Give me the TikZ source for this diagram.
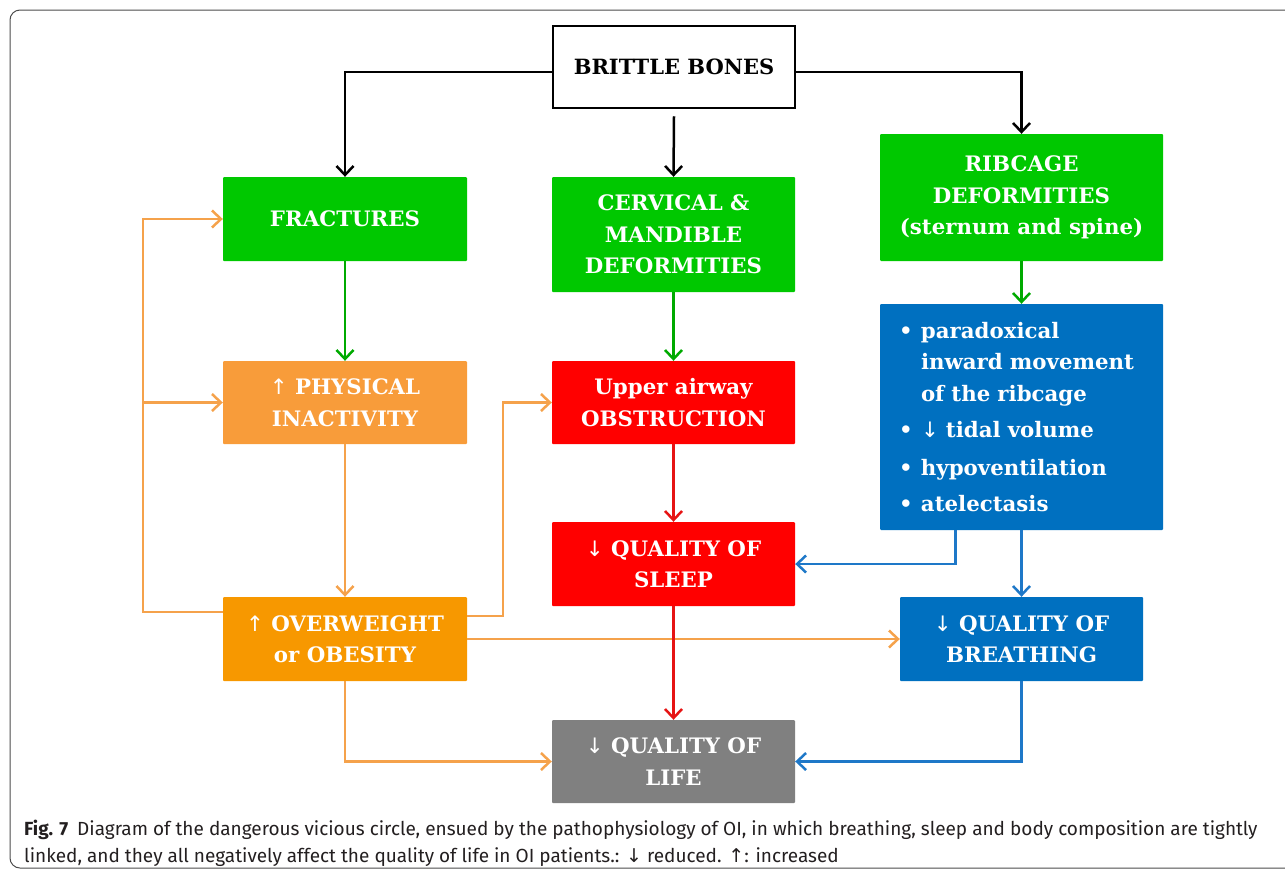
\documentclass[tikz,border=0pt]{standalone}
\usepackage{fontspec}
\setmainfont{DejaVu Serif}
\newfontfamily\capfont{Fira Sans}
\newfontfamily\arrfont{DejaVu Sans}
\usetikzlibrary{arrows.meta}
\definecolor{cgreen}{RGB}{0,200,0}
\definecolor{corangeA}{RGB}{248,156,58}
\definecolor{corangeB}{RGB}{247,152,0}
\definecolor{corangeL}{RGB}{245,162,75}
\definecolor{cred}{RGB}{255,0,0}
\definecolor{credL}{RGB}{230,20,20}
\definecolor{cblue}{RGB}{0,112,192}
\definecolor{cblueL}{RGB}{30,120,200}
\definecolor{cgray}{RGB}{128,128,128}
\definecolor{ccap}{RGB}{35,31,32}
\newcommand{\upa}{{\arrfont\mdseries\char"2191}}
\newcommand{\dna}{{\arrfont\mdseries\char"2193}}
\begin{document}
\begin{tikzpicture}[x=1pt,y=-1pt,
  box/.style={rectangle, inner sep=0pt, text=white, align=center, rounded corners=1pt,
    font=\bfseries\fontsize{21.3}{31.5}\selectfont},
  conn/.style={line width=2.5pt, -{Straight Barb[length=9pt,width=17pt,line width=2.5pt]}},
  blk/.style={conn, draw=black},
  grn/.style={conn, draw=cgreen!85!black},
  org/.style={conn, draw=corangeL},
  rd/.style={conn, draw=credL},
  blu/.style={conn, draw=cblueL},
]
\useasboundingbox (0,0) rectangle (1285,871);
\draw[draw=black!70, line width=1pt, rounded corners=10pt] (10,10) rectangle (1300,868);

% nodes
\node[rectangle, draw=black, line width=2.5pt, fill=white, minimum width=242pt, minimum height=82pt,
  font=\bfseries\fontsize{21}{24}\selectfont] (brittle) at (674,67) {BRITTLE BONES};
\node[box, fill=cgreen, minimum width=244pt, minimum height=84pt] (frac) at (345,219) {FRACTURES};
\node[box, fill=cgreen, minimum width=243pt, minimum height=115pt] (cerv) at (673.5,234.5) {CERVICAL \&\\MANDIBLE\\DEFORMITIES};
\node[box, fill=cgreen, minimum width=283pt, minimum height=127pt] (rib) at (1021.5,197.5) {RIBCAGE\\DEFORMITIES\\(sternum and spine)};
\node[box, fill=corangeA, minimum width=244pt, minimum height=83pt] (phys) at (345,402.5) {\upa{} PHYSICAL\\INACTIVITY};
\node[box, fill=cred, minimum width=243pt, minimum height=83pt] (upper) at (673.5,402.5) {Upper airway\\OBSTRUCTION};
\node[box, fill=cblue, minimum width=283pt, minimum height=226pt, text width=245pt, align=left] (resp) at (1021.5,417)
 {\makebox[22pt][l]{•}paradoxical\\
  \hspace*{22pt}inward movement\\
  \hspace*{22pt}of the ribcage\\[5pt]
  \makebox[22pt][l]{•}\dna{} tidal volume\\[6pt]
  \makebox[22pt][l]{•}hypoventilation\\[5pt]
  \makebox[22pt][l]{•}atelectasis};
\node[box, fill=cred, minimum width=243pt, minimum height=84pt] (sleep) at (673.5,564) {\dna{} QUALITY OF\\SLEEP};
\node[box, fill=corangeB, minimum width=244pt, minimum height=84pt] (over) at (345,639) {\upa{} OVERWEIGHT\\or OBESITY};
\node[box, fill=cblue, minimum width=243pt, minimum height=84pt] (breath) at (1021.5,639) {\dna{} QUALITY OF\\BREATHING};
\node[box, fill=cgray, minimum width=243pt, minimum height=83pt] (life) at (673.5,761.5) {\dna{} QUALITY OF\\LIFE};

\coordinate (lx) at (143,0);
\coordinate (mx) at (503,0);

% black
\draw[blk] (brittle.west) ++(0,5) -| (frac.north);
\draw[blk] (brittle.east) ++(0,5) -| (rib.north);
\draw[blk] (brittle.south) ++(0,7) -- (cerv.north);
% green
\draw[grn] (frac.south) -- (phys.north);
\draw[grn] (cerv.south) -- (upper.north);
\draw[grn] (rib.south) -- (resp.north);
% orange
\draw[org] (phys.south) -- (over.north);
\draw[org] (over.west) ++(0,-27) -| (lx |- frac.west) -- (frac.west);
\draw[org] (lx |- phys.west) -- (phys.west);
\draw[org] (over.east) ++(0,-23) -| (mx |- upper.west) -- (upper.west);
\draw[org] (over.east) -- (breath.west);
\draw[org] (over.south) |- (life.west);
% red
\draw[rd] (upper.south) -- (sleep.north);
\draw[rd] (sleep.south) -- (life.north);
% blue
\draw[blu] (resp.south) ++(-66,0) |- (sleep.east);
\draw[blu] (resp.south) -- (breath.north);
\draw[blu] (breath.south) |- (life.east);

% caption
\node[anchor=base west, inner sep=0pt, text=ccap, font=\capfont\fontsize{19}{22}\selectfont] (cap1) at (24,835)
 {\textbf{Fig. 7}\hspace{9pt}Diagram of the dangerous vicious circle, ensued by the pathophysiology of OI, in which breathing, sleep and body composition are tightly};
\node[anchor=base west, inner sep=0pt, text=ccap, font=\capfont\fontsize{19}{22}\selectfont] (cap2) at (24,862)
 {linked, and they all negatively affect the quality of life in OI patients.: {\arrfont\char"2193} reduced. {\arrfont\char"2191}: increased};
\end{tikzpicture}
\end{document}
